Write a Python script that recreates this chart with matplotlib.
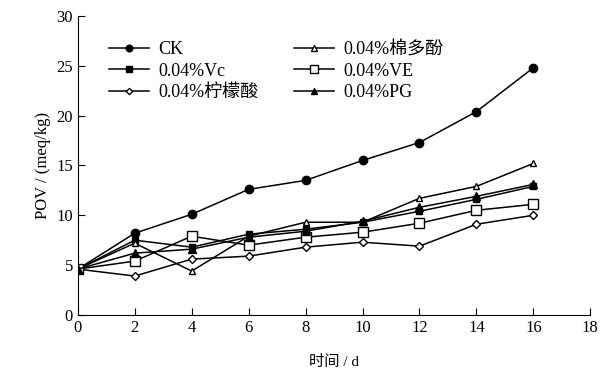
import numpy as np
import matplotlib.pyplot as plt

plt.rcParams['font.family'] = ['Liberation Serif', 'Noto Sans CJK SC']
plt.rcParams['axes.unicode_minus'] = False

# 数据
days = [0, 2, 4, 6, 8, 10, 12, 14, 16]
ck = [4.6, 8.2, 10.1, 12.6, 13.5, 15.5, 17.3, 20.4, 24.8]
tannin = [4.6, 7.2, 4.4, 7.9, 9.3, 9.3, 11.7, 12.9, 15.2]
vc = [4.6, 7.5, 6.8, 8.1, 8.6, 9.3, 10.4, 11.6, 12.9]
ve = [4.6, 5.4, 7.9, 7.0, 7.8, 8.3, 9.2, 10.5, 11.1]
citric = [4.6, 3.9, 5.6, 5.9, 6.8, 7.3, 6.9, 9.1, 10.0]
pg = [4.6, 6.2, 6.6, 7.8, 8.4, 9.4, 10.8, 11.9, 13.1]

fig = plt.figure(figsize=(6.03, 3.79), dpi=100)
ax = fig.add_axes([0.129, 0.169, 0.85, 0.789])

lw = 1.1
h_ck, = ax.plot(days, ck, '-o', color='black', lw=lw, ms=6, label='CK')
h_vc, = ax.plot(days, vc, '-s', color='black', lw=lw, ms=5, label='0.04%Vc')
h_ci, = ax.plot(days, citric, '-D', color='black', mfc='white', lw=lw, ms=4, label='0.04%柠檬酸')
h_ta, = ax.plot(days, tannin, '-^', color='black', mfc='white', lw=lw, ms=5, label='0.04%棉多酚')
h_ve, = ax.plot(days, ve, '-s', color='black', mfc='white', lw=lw, ms=7, label='0.04%VE')
h_pg, = ax.plot(days, pg, '-^', color='black', lw=lw, ms=6, label='0.04%PG')

ax.set_xlim(0, 18)
ax.set_ylim(0, 30)
ax.set_xticks(range(0, 19, 2))
ax.set_yticks(range(0, 31, 5))
ax.spines['top'].set_visible(False)
ax.spines['right'].set_visible(False)
ax.tick_params(direction='in', labelsize=12, length=5)
ax.set_xlabel('时间 / d', fontsize=11, labelpad=14)
ax.set_ylabel('POV / (meq/kg)', fontsize=12)

ax.legend(handles=[h_ck, h_vc, h_ci, h_ta, h_ve, h_pg], ncol=2, frameon=False,
          loc='upper left', bbox_to_anchor=(0.03, 0.97), fontsize=13,
          handlelength=2.2, handletextpad=0.5, columnspacing=2.0,
          labelspacing=0.25, markerscale=0.8)

plt.savefig('out.png', dpi=100)
